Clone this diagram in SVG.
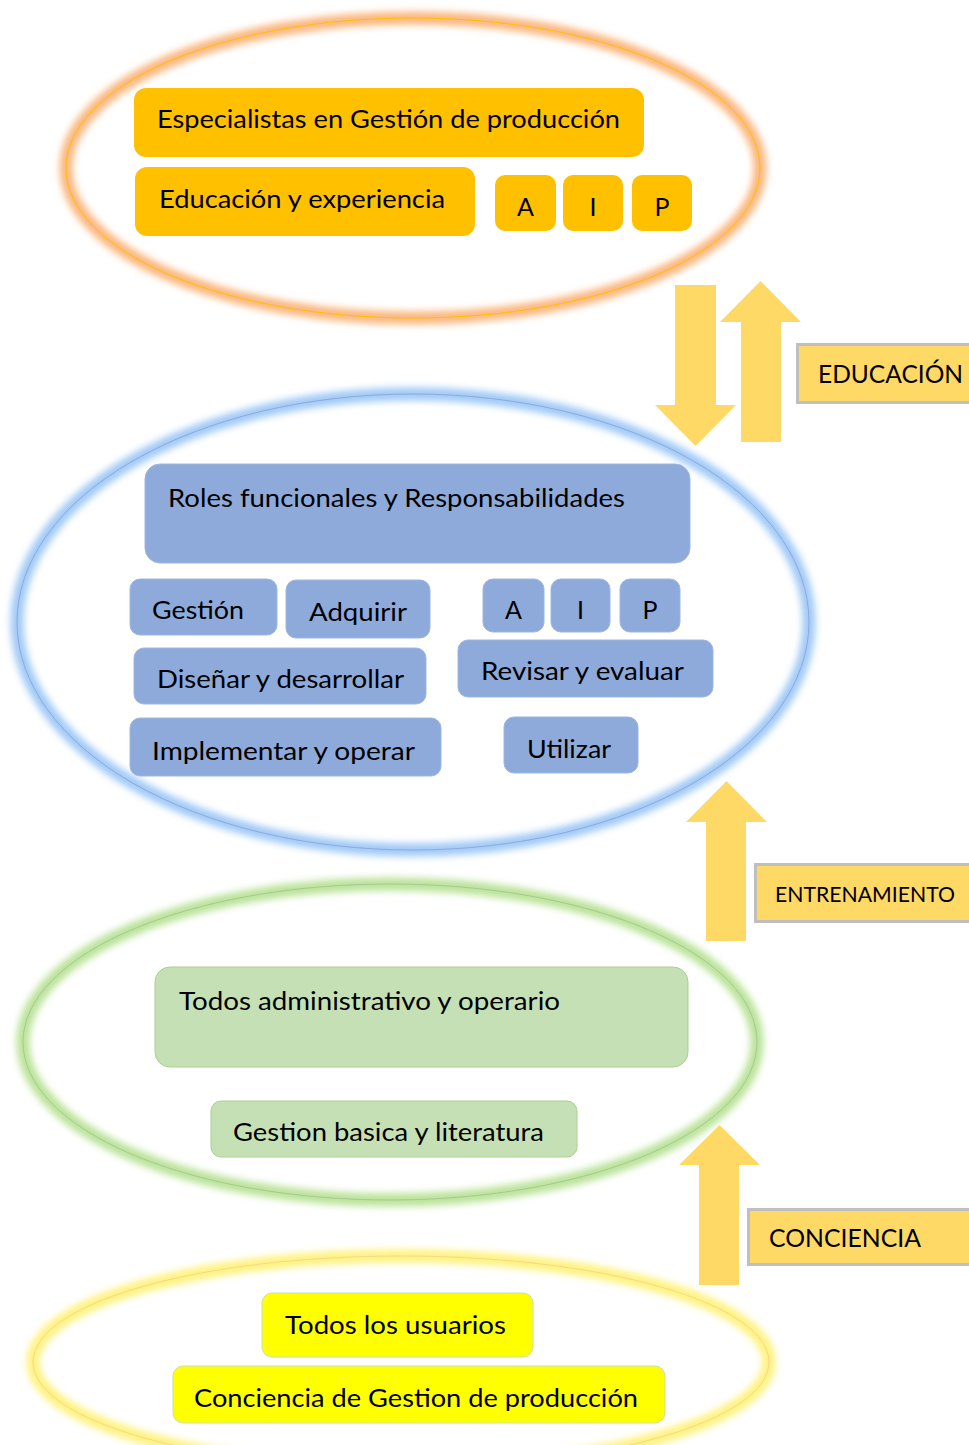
<svg xmlns="http://www.w3.org/2000/svg" width="969" height="1445" viewBox="0 0 969 1445">
<defs>
<filter id="glow" x="-10%" y="-10%" width="120%" height="120%"><feGaussianBlur stdDeviation="3.5"/></filter>
<style>
text{font-family:"Lato","Liberation Sans",sans-serif;font-size:25px;fill:#000}
.org{fill:#FFC000}
.blu{fill:#8EAADB;stroke:#9DB6E2;stroke-width:1}
.grn{fill:#C5E0B4;stroke:#A9D18E;stroke-width:1}
.yel{fill:#FFFF00;stroke:#C9DFA8;stroke-width:1}
.arrow{fill:#FFD966}
.lbl{fill:#FFD966;stroke:#BFBFBF;stroke-width:3}
.c{text-anchor:middle}
</style>
</defs>
<rect width="969" height="1445" fill="#fff"/>

<g id="ring-top">
<ellipse cx="413" cy="168" rx="347" ry="150" fill="none" stroke="#F9A55E" stroke-width="13" opacity="0.8" filter="url(#glow)"/>
<ellipse cx="413" cy="168" rx="347" ry="150" fill="none" stroke="#FFC000" stroke-width="1"/>
</g>
<g id="ring-blue">
<ellipse cx="413" cy="622" rx="396" ry="228" fill="none" stroke="#8FC0F5" stroke-width="13" opacity="0.85" filter="url(#glow)"/>
<ellipse cx="413" cy="622" rx="396" ry="228" fill="none" stroke="#8EA9DB" stroke-width="1"/>
</g>
<g id="ring-green">
<ellipse cx="390" cy="1042" rx="367" ry="158" fill="none" stroke="#A8DC7E" stroke-width="13" opacity="0.8" filter="url(#glow)"/>
<ellipse cx="390" cy="1042" rx="367" ry="158" fill="none" stroke="#A9C795" stroke-width="1"/>
</g>
<g id="ring-yellow">
<ellipse cx="401" cy="1362" rx="368" ry="106" fill="none" stroke="#FFF066" stroke-width="13" opacity="0.85" filter="url(#glow)"/>
<ellipse cx="401" cy="1362" rx="368" ry="106" fill="none" stroke="#F6D88A" stroke-width="1"/>
</g>

<g id="n-especialistas"><rect class="org" x="134" y="88" width="510" height="69" rx="12"/><text x="157" y="128" textLength="463" lengthAdjust="spacingAndGlyphs">Especialistas en Gestión de producción</text></g>
<g id="n-educacion-exp"><rect class="org" x="135" y="167" width="340" height="69" rx="12"/><text x="159" y="208" textLength="286" lengthAdjust="spacingAndGlyphs">Educación y experiencia</text></g>
<g id="n-top-a"><rect class="org" x="495" y="175" width="61" height="56" rx="10"/><text class="c" x="525.5" y="216">A</text></g>
<g id="n-top-i"><rect class="org" x="563" y="175" width="60" height="56" rx="10"/><text class="c" x="593" y="216">I</text></g>
<g id="n-top-p"><rect class="org" x="632" y="175" width="60" height="56" rx="10"/><text class="c" x="662" y="216">P</text></g>

<g id="n-roles"><rect class="blu" x="145" y="464" width="545" height="99" rx="15"/><text x="168" y="507" textLength="457" lengthAdjust="spacingAndGlyphs">Roles funcionales y Responsabilidades</text></g>
<g id="n-gestion"><rect class="blu" x="130" y="579" width="147" height="56" rx="10"/><text x="152" y="619" textLength="92" lengthAdjust="spacingAndGlyphs">Gestión</text></g>
<g id="n-adquirir"><rect class="blu" x="286" y="580" width="144" height="58" rx="10"/><text x="309" y="621" textLength="98" lengthAdjust="spacingAndGlyphs">Adquirir</text></g>
<g id="n-mid-a"><rect class="blu" x="483" y="579" width="61" height="53" rx="10"/><text class="c" x="513.5" y="619">A</text></g>
<g id="n-mid-i"><rect class="blu" x="551" y="579" width="59" height="53" rx="10"/><text class="c" x="580.5" y="619">I</text></g>
<g id="n-mid-p"><rect class="blu" x="620" y="579" width="60" height="53" rx="10"/><text class="c" x="650" y="619">P</text></g>
<g id="n-disenar"><rect class="blu" x="134" y="648" width="292" height="56" rx="10"/><text x="157" y="688" textLength="247" lengthAdjust="spacingAndGlyphs">Diseñar y desarrollar</text></g>
<g id="n-revisar"><rect class="blu" x="458" y="640" width="255" height="57" rx="10"/><text x="481" y="680" textLength="203" lengthAdjust="spacingAndGlyphs">Revisar y evaluar</text></g>
<g id="n-implementar"><rect class="blu" x="130" y="718" width="311" height="58" rx="10"/><text x="152" y="760" textLength="263" lengthAdjust="spacingAndGlyphs">Implementar y operar</text></g>
<g id="n-utilizar"><rect class="blu" x="504" y="717" width="134" height="56" rx="10"/><text x="527" y="758" textLength="84" lengthAdjust="spacingAndGlyphs">Utilizar</text></g>

<g id="n-todos-admin"><rect class="grn" x="155" y="967" width="533" height="100" rx="15"/><text x="179" y="1010" textLength="381" lengthAdjust="spacingAndGlyphs">Todos administrativo y operario</text></g>
<g id="n-gestion-basica"><rect class="grn" x="211" y="1101" width="366" height="56" rx="10"/><text x="233" y="1141" textLength="311" lengthAdjust="spacingAndGlyphs">Gestion basica y literatura</text></g>

<g id="n-todos-usuarios"><rect class="yel" x="262" y="1293" width="271" height="64" rx="10"/><text x="285" y="1334" textLength="221" lengthAdjust="spacingAndGlyphs">Todos los usuarios</text></g>
<g id="n-conciencia-gp"><rect class="yel" x="173" y="1366" width="492" height="57" rx="10"/><text x="194" y="1407" textLength="444" lengthAdjust="spacingAndGlyphs">Conciencia de Gestion de producción</text></g>

<g id="connectors">
<polygon class="arrow" points="675,285 716,285 716,405 736,405 695.5,446 655,405 675,405"/>
<polygon class="arrow" points="741,442 781,442 781,322 801,322 760.5,281 720,322 741,322"/>
<polygon class="arrow" points="706,941 746,941 746,822 767,822 726.5,781 686,822 706,822"/>
<polygon class="arrow" points="699,1285 739,1285 739,1165 760,1165 719.5,1125 679,1165 699,1165"/>
</g>

<g id="lbl-educacion"><rect class="lbl" x="797.5" y="344.5" width="180" height="58"/><text x="818" y="383" textLength="145" lengthAdjust="spacingAndGlyphs">EDUCACIÓN</text></g>
<g id="lbl-entrenamiento"><rect class="lbl" x="755.5" y="864.5" width="222" height="57"/><text x="775" y="902" style="font-size:22px" textLength="180" lengthAdjust="spacingAndGlyphs">ENTRENAMIENTO</text></g>
<g id="lbl-conciencia"><rect class="lbl" x="748.5" y="1209.5" width="229" height="55"/><text x="769" y="1247" textLength="152" lengthAdjust="spacingAndGlyphs">CONCIENCIA</text></g>
</svg>
